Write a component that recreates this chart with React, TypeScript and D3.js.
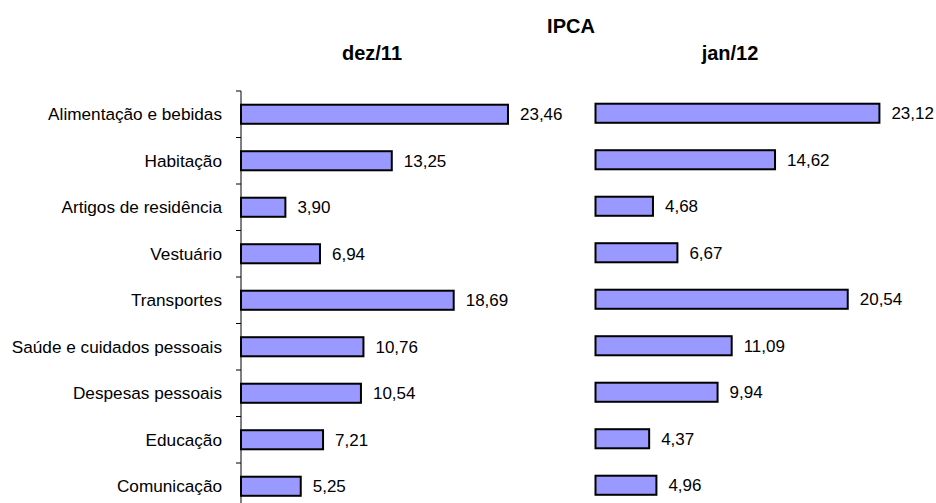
import React from "react";
import * as d3 from "d3";

const categories = [
  "Alimentação e bebidas",
  "Habitação",
  "Artigos de residência",
  "Vestuário",
  "Transportes",
  "Saúde e cuidados pessoais",
  "Despesas pessoais",
  "Educação",
  "Comunicação",
];
const dez11 = [23.46, 13.25, 3.9, 6.94, 18.69, 10.76, 10.54, 7.21, 5.25];
const jan12 = [23.12, 14.62, 4.68, 6.67, 20.54, 11.09, 9.94, 4.37, 4.96];

const W = 936;
const H = 503;
const fmt = (v: number) => v.toFixed(2).replace(".", ",");

export default function App() {
  const yL = d3.scaleBand<string>().domain(categories).range([91, 509.5]).paddingInner(0.59).paddingOuter(0.295);
  const yR = d3.scaleBand<string>().domain(categories).range([90, 508.5]).paddingInner(0.59).paddingOuter(0.295);
  const xL = d3.scaleLinear().domain([0, 25]).range([241, 241 + 25 * 11.38]);
  const xR = d3.scaleLinear().domain([0, 25]).range([595.5, 595.5 + 25 * 12.28]);
  const step = yL.step();
  const ticks = d3.range(categories.length + 1).map((i) => 91 + i * step);
  const font = "'Liberation Sans', Arial, sans-serif";

  return (
    <div style={{ position: "fixed", left: 0, top: 0, background: "#fff" }}>
      <svg width={W} height={H} style={{ display: "block" }} fontFamily={font}>
        <rect width={W} height={H} fill="#fff" />
        <text x={571} y={33} textAnchor="middle" fontWeight="bold" fontSize={20}>IPCA</text>
        <text x={372} y={60} textAnchor="middle" fontWeight="bold" fontSize={20}>dez/11</text>
        <text x={730} y={60} textAnchor="middle" fontWeight="bold" fontSize={20}>jan/12</text>

        {/* left axis */}
        <line x1={241} x2={241} y1={91} y2={H} stroke="#000" strokeWidth={1} />
        {ticks.map((t, i) => (
          <line key={i} x1={236} x2={241} y1={t} y2={t} stroke="#000" strokeWidth={1} />
        ))}

        {categories.map((c, i) => {
          const yl = yL(c)!;
          const yr = yR(c)!;
          const bh = yL.bandwidth();
          return (
            <g key={c}>
              <text x={222} y={yl + bh / 2} dy="0.35em" textAnchor="end" fontSize={17.2}>{c}</text>
              <rect x={xL(0)} y={yl} width={xL(dez11[i]) - xL(0)} height={bh} fill="#9999FF" stroke="#000" strokeWidth={2} />
              <text x={xL(dez11[i]) + 12} y={yl + bh / 2} dy="0.35em" fontSize={17}>{fmt(dez11[i])}</text>
              <rect x={xR(0)} y={yr} width={xR(jan12[i]) - xR(0)} height={bh} fill="#9999FF" stroke="#000" strokeWidth={2} />
              <text x={xR(jan12[i]) + 12} y={yr + bh / 2} dy="0.35em" fontSize={17}>{fmt(jan12[i])}</text>
            </g>
          );
        })}
      </svg>
    </div>
  );
}
